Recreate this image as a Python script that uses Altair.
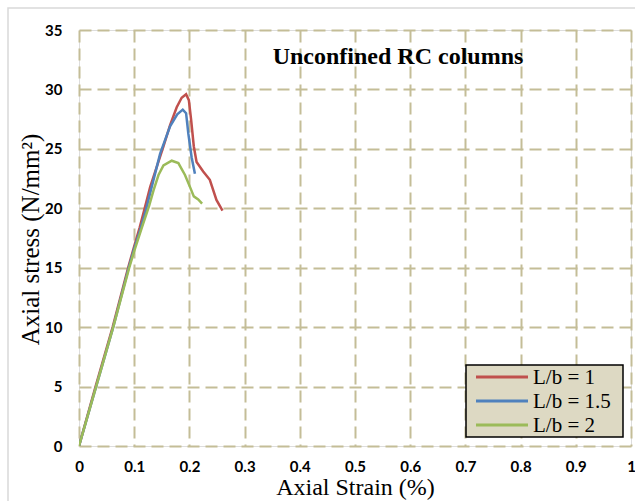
import altair as alt
import pandas as pd

series_names = ["L/b = 1", "L/b = 1.5", "L/b = 2"]
colors = ["#C0504D", "#4F81BD", "#9BBB59"]

red_strain = [0, 0.03, 0.061, 0.089, 0.1, 0.11, 0.119, 0.129, 0.141, 0.153, 0.165, 0.177, 0.186, 0.194, 0.199, 0.203, 0.208, 0.213, 0.225, 0.237, 0.249, 0.26]
red_stress = [0, 5, 10, 15, 16.8, 18.4, 20, 21.8, 23.5, 25.2, 27, 28.5, 29.3, 29.6, 29.1, 27.5, 25.2, 23.9, 23.1, 22.4, 20.7, 19.8]

blue_strain = [0, 0.031, 0.062, 0.09, 0.1, 0.111, 0.121, 0.129, 0.147, 0.165, 0.178, 0.188, 0.194, 0.198, 0.204, 0.21]
blue_stress = [0, 5, 10, 15, 16.6, 18.2, 19.8, 21.3, 24.6, 26.9, 27.9, 28.3, 28.0, 26.3, 24.3, 22.9]

green_strain = [0, 0.031, 0.062, 0.091, 0.1, 0.114, 0.127, 0.135, 0.144, 0.153, 0.168, 0.18, 0.192, 0.201, 0.208, 0.216, 0.223]
green_stress = [0, 5, 10, 15, 16.4, 18.4, 20.2, 21.5, 22.8, 23.6, 24.0, 23.8, 22.8, 21.8, 21.0, 20.75, 20.4]

x_ticks = [0, 0.1, 0.2, 0.3, 0.4, 0.5, 0.6, 0.7, 0.8, 0.9, 1]
y_ticks = [0, 5, 10, 15, 20, 25, 30, 35]

chart_title = "Unconfined RC columns"
x_title = "Axial Strain (%)"
y_title = "Axial stress (N/mm²)"

rows = []
for name, xs, ys in zip(series_names, [red_strain, blue_strain, green_strain], [red_stress, blue_stress, green_stress]):
    for i, (a, b) in enumerate(zip(xs, ys)):
        rows.append({"series": name, "strain": a, "stress": b, "order": i})
df = pd.DataFrame(rows)

serif = "Liberation Serif"
sans = "Lato"
grid_color = "#C4BD97"

x_enc = alt.X("strain:Q", scale=alt.Scale(domain=[0, 1], nice=False, zero=False),
              axis=alt.Axis(values=x_ticks, title=x_title, format="~g",
                            labelFont=sans, labelFontWeight="bold", labelFontSize=15, labelColor="black",
                            labelPadding=13, titleFont=serif, titleFontSize=24, titleFontWeight="normal",
                            titleColor="black", titleX=276, titleY=41, titleBaseline="middle",
                            titleAlign="center", domain=False, ticks=False,
                            grid=True, gridColor=grid_color, gridDash=[12, 6], gridWidth=2,
                            labelFlush=False))
y_enc = alt.Y("stress:Q", scale=alt.Scale(domain=[0, 35], nice=False),
              axis=alt.Axis(values=y_ticks, title=y_title,
                            labelFont=sans, labelFontWeight="bold", labelFontSize=15, labelColor="black",
                            labelPadding=17, titleFont=serif, titleFontSize=25, titleFontWeight="normal",
                            titleColor="black", titleX=-49, titleY=209, titleAngle=270,
                            titleBaseline="middle", titleAlign="center", domain=False, ticks=False,
                            grid=True, gridColor=grid_color, gridDash=[12, 6], gridWidth=2))

lines = alt.Chart(df).mark_line(strokeWidth=2.5, clip=True).encode(
    x=x_enc,
    y=y_enc,
    color=alt.Color("series:N", scale=alt.Scale(domain=series_names, range=colors), legend=None),
    order="order:Q",
)

one = pd.DataFrame({"k": [0]})

# outer chart border (decoration)
outer = alt.Chart(one).mark_rect(fill=None, stroke="#D9D9D9", strokeWidth=1.5, clip=False).encode(
    x=alt.value(-71), x2=alt.value(580), y=alt.value(-22), y2=alt.value(500))

title = alt.Chart(pd.DataFrame({"t": [chart_title]})).mark_text(
    font=serif, fontSize=24, fontWeight="bold", color="black", align="center", baseline="middle").encode(
    x=alt.value(319), y=alt.value(27), text="t:N")

# manual legend
legend_layers = [
    alt.Chart(one).mark_rect(fill="#DDD9C3", stroke="black", strokeWidth=1.5).encode(
        x=alt.value(387), x2=alt.value(544), y=alt.value(335), y2=alt.value(407))
]
entry_y = [347, 371, 395]
for name, col, yy in zip(series_names, colors, entry_y):
    legend_layers.append(alt.Chart(one).mark_rule(color=col, strokeWidth=3).encode(
        x=alt.value(397), x2=alt.value(449), y=alt.value(yy)))
    legend_layers.append(alt.Chart(pd.DataFrame({"t": [name]})).mark_text(
        font=serif, fontSize=21, color="black", align="left", baseline="middle").encode(
        x=alt.value(454), y=alt.value(yy + 1), text="t:N"))

chart = alt.layer(outer, lines, title, *legend_layers).properties(
    width=552, height=416,
    autosize=alt.AutoSizeParams(type="none"),
    padding={"left": 79, "top": 30, "right": 4, "bottom": 55},
).configure_view(stroke="black", strokeWidth=2.5).configure(background="white")

chart.save("out.html", embed_options={"renderer": "svg", "actions": False})
